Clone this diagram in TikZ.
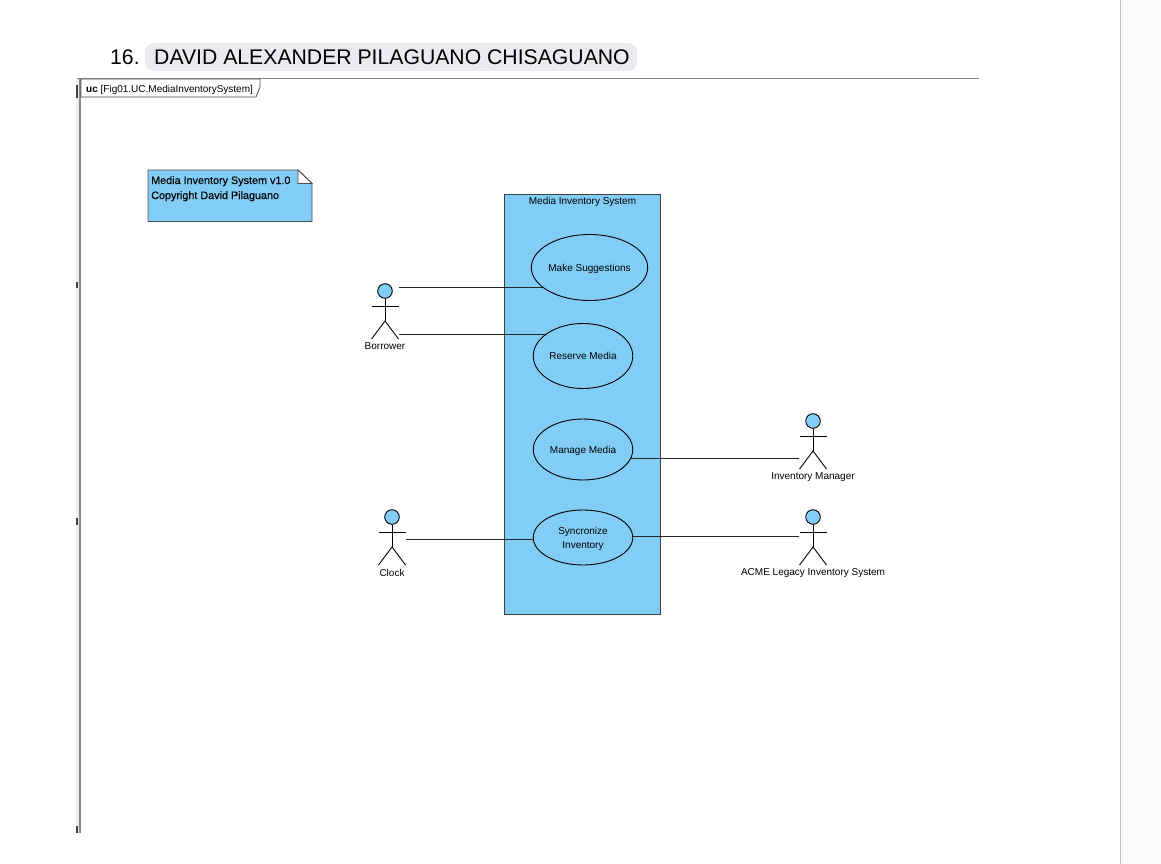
\documentclass[tikz,border=0pt]{standalone}
\usepackage{fontspec}
\setmainfont{Liberation Sans}
\newfontfamily\notefont[FakeBold=0.25]{Liberation Sans}
\usetikzlibrary{shapes.geometric}
\definecolor{ucblue}{RGB}{129,205,245}
\definecolor{pillgray}{RGB}{233,235,238}
\definecolor{sidegray}{RGB}{249,250,252}
\definecolor{framegray}{RGB}{130,135,150}
\tikzset{
  usecase/.style={draw,ellipse,fill=ucblue,inner sep=0pt,align=center,line width=0.9pt,text depth=0pt,font=\fontsize{10}{14}\selectfont},
  actorname/.style={text depth=0pt,font=\fontsize{10}{12}\selectfont},
  wire/.style={line width=1pt,black!85}
}
% stick figure: name, x, y of head, label
\newcommand{\stickman}[4]{
  \node[circle,draw,fill=ucblue,minimum size=14.6pt,inner sep=0pt,line width=0.9pt] (#1) at (#2,#3) {};
  \coordinate (#1hip) at (#2,#3+30);
  \draw[line width=0.9pt] (#1.south) -- (#1hip);
  \draw[line width=0.9pt] (#2-13.5,#3+15) -- (#2+13.5,#3+15);
  \draw[line width=0.9pt] (#2-13.5,#3+48) -- (#1hip) -- (#2+13.5,#3+48);
  \node[actorname] (#1name) at (#2,#3+55.5) {#4};
}
\begin{document}
\begin{tikzpicture}[x=1pt,y=-1pt]
\useasboundingbox (0,0) rectangle (1161,864);
\fill[white] (0,0) rectangle (1161,864);

% page side
\fill[sidegray] (1120,0) rectangle (1161,864);
\draw[line width=1pt,black!25] (1120.5,0) -- (1120.5,864);

% heading
\fill[pillgray,rounded corners=9pt] (145,43) rectangle (637,71);
\node[anchor=base west,font=\fontsize{21.2}{24}\selectfont,inner sep=0pt] (number) at (110,65) {16.};
\node[anchor=base west,font=\fontsize{21.2}{24}\selectfont,inner sep=0pt] (author) at (154,65) {DAVID ALEXANDER PILAGUANO CHISAGUANO};

% frame
\fill[black!7] (76,79) rectangle (80,833);
\draw[line width=1.4pt,framegray] (80,78) -- (80,833);
\draw[line width=1pt,framegray] (77,78.5) -- (979,78.5);
\fill[black!75] (76,85) rectangle (78,98);
\fill[black!75] (76,282) rectangle (78,288);
\fill[black!75] (76,518) rectangle (78,525);
\fill[black!75] (76,826) rectangle (78,833);
\draw[line width=0.8pt,fill=white,draw=black!70] (81,79) -- (260,79) -- (260,87) -- (256,97) -- (81,97) -- cycle;
\node[anchor=base west,font=\fontsize{10}{12}\selectfont,inner sep=0pt] (frametitle) at (86,92.5) {\textbf{uc} [Fig01.UC.MediaInventorySystem]};

% note
\draw[line width=0.9pt,draw=black!70,fill=ucblue] (148,170) -- (298,170) -- (312,183.5) -- (312,221.5) -- (148,221.5) -- cycle;
\draw[line width=0.9pt,draw=black!70,fill=white] (298,170) -- (298,183.5) -- (312,183.5) -- cycle;
\node[anchor=base west,font=\notefont\fontsize{10.8}{12}\selectfont,inner sep=0pt] (noteone) at (151,184) {Media Inventory System v1.0};
\node[anchor=base west,font=\notefont\fontsize{10.8}{12}\selectfont,inner sep=0pt] (notetwo) at (151,199) {Copyright David Pilaguano};

% system
\node[draw=black!75,fill=ucblue,line width=1pt,minimum width=156pt,minimum height=420pt,inner sep=0pt] (system) at (582,404) {};
\node[actorname] (systemname) at (582.5,201) {Media Inventory System};

% use cases
\node[usecase,minimum width=113pt,minimum height=66pt] (suggest) at (589.5,267.5) {Make Suggestions};
\node[usecase,minimum width=99.5pt,minimum height=65pt] (reserve) at (583,356) {Reserve Media};
\node[usecase,minimum width=99.5pt,minimum height=61pt] (manage) at (583,449.5) {Manage Media};
\node[usecase,minimum width=99.5pt,minimum height=55pt] (sync) at (583,537.5) {Syncronize\\Inventory};

% actors
\stickman{borrower}{385}{291}{Borrower}
\stickman{manager}{813}{421}{Inventory Manager}
\stickman{clock}{392}{517}{Clock}
\stickman{legacy}{813}{517}{ACME Legacy Inventory System}

% associations
\coordinate (borrowerA) at (399,287);
\coordinate (borrowerB) at (399,334.5);
\coordinate (managerA) at (799,458.5);
\coordinate (legacyA) at (799,536);
\coordinate (clockA) at (406,539);
\draw[wire] (borrowerA) -- (borrowerA -| suggest.204);
\draw[wire] (borrowerB) -- (borrowerB -| reserve.150);
\draw[wire] (managerA -| manage.349) -- (managerA);
\draw[wire] (legacyA -| sync.2) -- (legacyA);
\draw[wire] (clockA) -- (clockA -| sync.182);
\end{tikzpicture}
\end{document}
